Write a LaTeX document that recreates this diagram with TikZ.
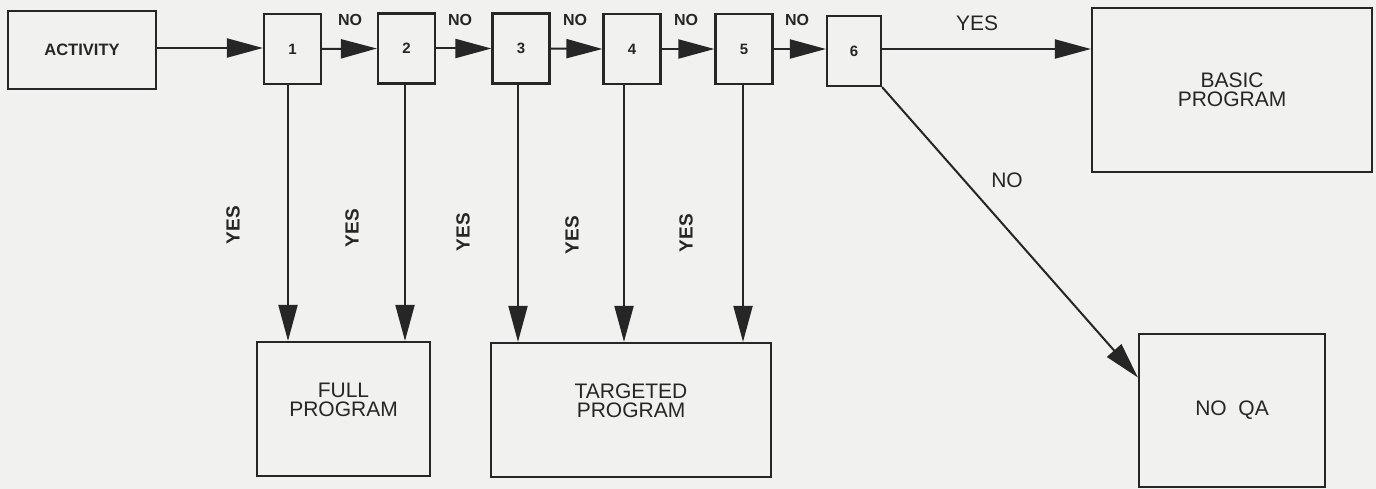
\documentclass[tikz,border=0pt]{standalone}
\usepackage{fontspec}
\setmainfont{Liberation Sans}
\usetikzlibrary{arrows.meta,calc}
\definecolor{bgc}{RGB}{241,241,239}
\definecolor{ink}{RGB}{38,38,38}
\begin{document}
\begin{tikzpicture}[x=1pt,y=-1pt,
  box/.style={draw=ink,line width=2.2pt,inner sep=0pt,align=center,text=ink},
  numbox/.style={box,minimum width=57pt,minimum height=70pt,font=\bfseries\fontsize{15}{15}\selectfont},
  bigbox/.style={box,font=\fontsize{21}{19}\selectfont},
  arr/.style={draw=ink,line width=2pt,-{Triangle[length=36pt,width=19pt]}},
  lbl/.style={text=ink,inner sep=0pt,font=\bfseries\fontsize{16}{16}\selectfont},
  vlbl/.style={lbl,rotate=90,font=\bfseries\fontsize{19}{19}\selectfont},
  biglbl/.style={text=ink,inner sep=0pt,font=\fontsize{21}{21}\selectfont}]
\useasboundingbox (0,0) rectangle (1376,489);
\fill[bgc] (0,0) rectangle (1376,489);
% boxes
\node[box,minimum width=148pt,minimum height=78pt,font=\bfseries\fontsize{16.5}{16.5}\selectfont] (act) at (82,50) {ACTIVITY};
\node[numbox] (b1) at (292.5,49) {1};
\node[numbox] (b2) at (406.5,48.5) {2};
\node[numbox] (b3) at (521,48.5) {3};
\node[numbox] (b4) at (632,49) {4};
\node[numbox] (b5) at (744,49) {5};
\node[numbox,minimum width=54pt] (b6) at (854,51) {6};
\node[bigbox,minimum width=280pt,minimum height=164pt] (basic) at (1232,90) {BASIC\\PROGRAM};
\node[bigbox,minimum width=173pt,minimum height=134pt] (full) at (343.5,409) {FULL\\PROGRAM\\\mbox{}};
\node[bigbox,minimum width=280pt,minimum height=134pt] (targ) at (631,410) {TARGETED\\PROGRAM\\\mbox{}};
\node[bigbox,minimum width=186pt,minimum height=153pt] (noqa) at (1232,410.5) {\mbox{}\\[-5pt]NO\ \ QA};
% horizontal arrows
\draw[arr] (act.east |- 0,48) -- (b1.west |- 0,48);
\draw[arr] (b1.east) -- (b2.west);
\draw[arr] (b2.east) -- (b3.west);
\draw[arr] (b3.east) -- (b4.west);
\draw[arr] (b4.east) -- (b5.west);
\draw[arr] (b5.east |- 0,49) -- (b6.west |- 0,49);
\draw[arr] (b6.east |- 0,49) -- (basic.west |- 0,49);
% vertical arrows
\draw[arr] ([xshift=-4.5pt]b1.south) -- ([xshift=-4.5pt]b1.south |- full.north);
\draw[arr] ([xshift=-1.5pt]b2.south) -- ([xshift=-1.5pt]b2.south |- full.north);
\draw[arr] ([xshift=-3pt]b3.south) -- ([xshift=-3pt]b3.south |- targ.north);
\draw[arr] ([xshift=-8pt]b4.south) -- ([xshift=-8pt]b4.south |- targ.north);
\draw[arr] ([xshift=-1pt]b5.south) -- ([xshift=-1pt]b5.south |- targ.north);
% diagonal
\draw[arr] (b6.south east) -- ([yshift=33pt]noqa.west);
% labels
\node[lbl] (n1) at (350,20) {NO};
\node[lbl] (n2) at (460,20) {NO};
\node[lbl] (n3) at (575,20) {NO};
\node[lbl] (n4) at (686,20) {NO};
\node[lbl] (n5) at (797,20) {NO};
\node[biglbl] (ytop) at (977,23) {YES};
\node[biglbl] (ndiag) at (1007,180) {NO};
\node[vlbl] (y1) at (233,225) {YES};
\node[vlbl] (y2) at (352,228) {YES};
\node[vlbl] (y3) at (463,232) {YES};
\node[vlbl] (y4) at (572,235) {YES};
\node[vlbl] (y5) at (686,233) {YES};
\end{tikzpicture}
\end{document}
